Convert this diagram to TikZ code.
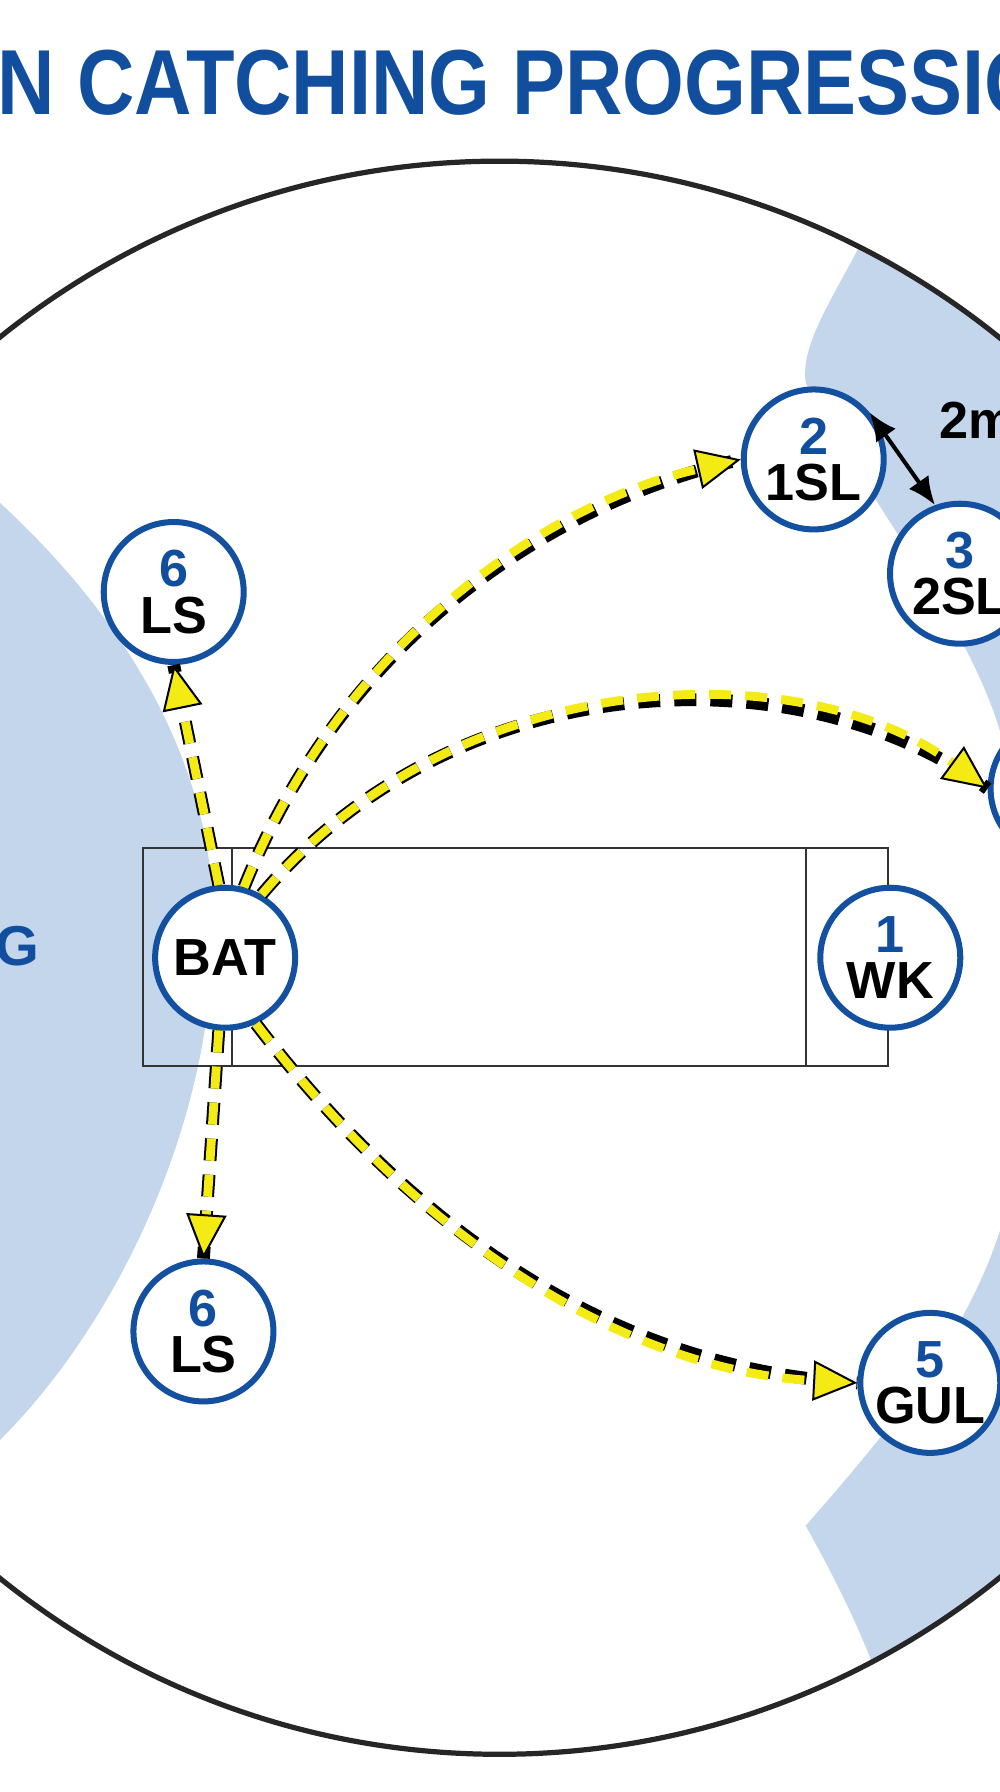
\documentclass[tikz,border=0pt]{standalone}
\usepackage{fontspec}
\setmainfont{Liberation Sans}
\usetikzlibrary{arrows.meta}
\definecolor{fieldblue}{RGB}{196,214,236}
\definecolor{pblue}{RGB}{20,80,160}
\definecolor{tblue}{RGB}{18,78,158}
\definecolor{ayellow}{RGB}{245,235,20}
\begin{document}
\begin{tikzpicture}[x=0.02cm,y=-0.02cm,
    pl/.style={circle,draw=pblue,line width=3pt,fill=white,minimum size=2.45cm,inner sep=0pt,
      font=\bfseries\fontsize{26}{23}\selectfont,align=center},
    hit/.style={line width=4.4pt,ayellow,dash pattern=on 11pt off 7pt,
      -{Triangle[length=22pt,width=20pt,fill=ayellow,color=black,line width=1pt]},
      preaction={draw,black,line width=6.4pt,dash pattern=on 11pt off 7pt,-}}]
  \useasboundingbox (0,0) rectangle (875,1568);
  \clip (0,0) rectangle (875,1568);
  % field shading
  \begin{scope}
    \clip (437,838) circle (697);
    \fill[fieldblue] (0,440) .. controls (130,560) and (200,700) .. (185,850)
      .. controls (175,1000) and (100,1160) .. (0,1260) -- cycle;
    \fill[fieldblue] (760,200) .. controls (730,260) and (700,300) .. (705,335)
      .. controls (760,440) and (860,560) .. (880,660) -- (900,200) -- cycle;
    \fill[fieldblue] (880,1060) .. controls (850,1170) and (770,1260) .. (705,1335)
      .. controls (730,1380) and (750,1420) .. (765,1460) -- (900,1460) -- cycle;
  \end{scope}
  \draw[line width=2.6pt,black!85] (437,838) circle (697);
  % title
  \node[font=\bfseries\fontsize{46}{46}\selectfont,text=tblue,xscale=0.86] (title) at (455,72)
    {ON CATCHING PROGRESSION};
  % pitch
  \draw[thick,black!80] (125,742) rectangle (777,933);
  \draw[thick,black!80] (203,742) -- (203,933) (705,742) -- (705,933);
  \node[font=\bfseries\fontsize{28}{28}\selectfont,text=tblue] (zone) at (15,828) {G};
  % players
  \node[pl] (bat) at (197,838) {BAT};
  \node[pl] (ls1) at (152,518) {\textcolor{tblue}{6}\\LS};
  \node[pl] (sl1) at (712,402) {\textcolor{tblue}{2}\\1SL};
  \node[pl] (sl2) at (840,502) {\textcolor{tblue}{3}\\2SL};
  \node[pl] (gully) at (928,690) {};
  \node[pl] (wk) at (779,838) {\textcolor{tblue}{1}\\WK};
  \node[pl] (ls2) at (178,1165) {\textcolor{tblue}{6}\\LS};
  \node[pl] (gul) at (814,1210) {\textcolor{tblue}{5}\\GUL};
  % spacing
  \draw[{Latex[length=14pt,width=12pt]}-{Latex[length=14pt,width=12pt]},line width=2pt] (sl1.40) -- (sl2.110);
  \node[font=\bfseries\fontsize{26}{26}\selectfont] (gap) at (855,368) {2m};
  % catches
  \draw[hit] (bat.95) -- (ls1.south);
  \draw[hit] (bat.75) .. controls (300,560) and (480,440) .. (sl1.west);
  \draw[hit] (bat.60) .. controls (400,580) and (700,570) .. (gully.west);
  \draw[hit] (bat.265) -- (ls2.north);
  \draw[hit] (bat.295) .. controls (380,1100) and (560,1200) .. (gul.west);
\end{tikzpicture}
\end{document}
